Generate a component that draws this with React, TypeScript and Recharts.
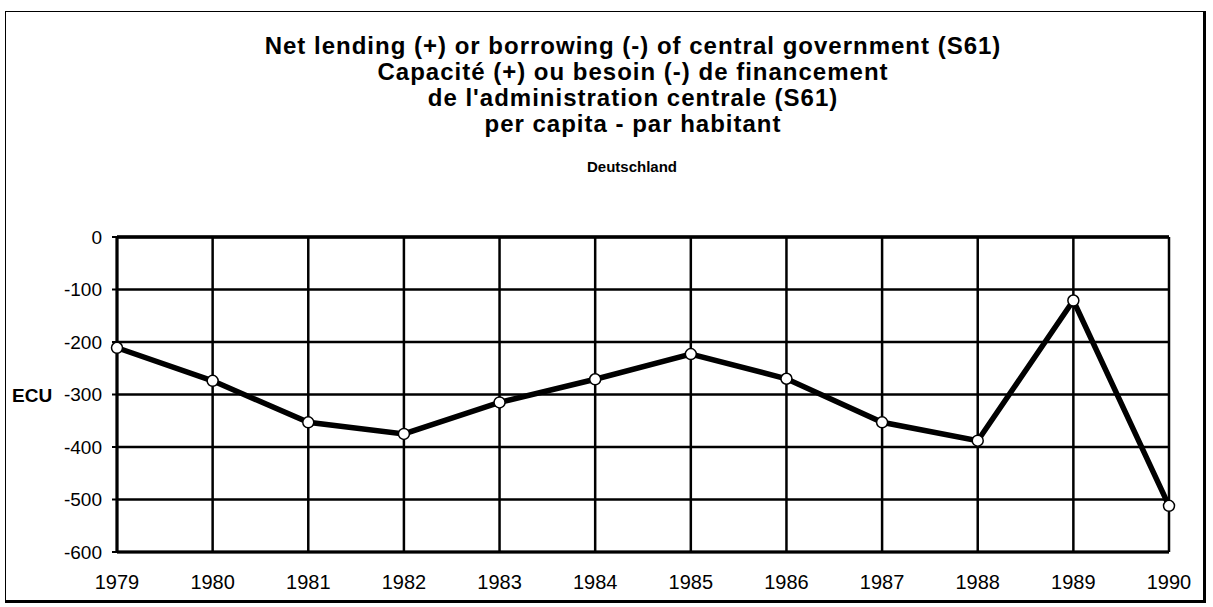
import React from 'react';
import { LineChart, Line, XAxis, YAxis, CartesianGrid, ReferenceLine } from 'recharts';

const years = ['1979', '1980', '1981', '1982', '1983', '1984', '1985', '1986', '1987', '1988', '1989', '1990'];
const ecuPerCapita = [-211, -274, -353, -375, -315, -271, -223, -270, -353, -388, -121, -512];
const yTicks = [0, -100, -200, -300, -400, -500, -600];

const titleLines = [
    'Net lending (+) or borrowing (-) of central government (S61)',
    'Capacité (+) ou besoin (-) de financement',
    "de l'administration centrale (S61)",
    'per capita - par habitant',
];

const FONT = '"Liberation Sans", Arial, Helvetica, sans-serif';

const data = years.map((y, i) => ({ year: y, value: ecuPerCapita[i] }));

export default function App() {
    return (
        <div style={{ position: 'absolute', left: 0, top: 0, width: 1213, height: 607, background: '#fff', fontFamily: FONT }}>
            {/* frame around the whole figure, heavier on the right and bottom */}
            <div style={{
                position: 'absolute', left: 5, top: 11, width: 1197, height: 588,
                borderLeft: '1px solid #000', borderTop: '1px solid #000',
                borderRight: '3px solid #000', borderBottom: '3px solid #000',
            }} />
            <div style={{ position: 'absolute', left: 0, top: 33, width: 1266, textAlign: 'center', fontWeight: 'bold', fontSize: 24, lineHeight: '26px', letterSpacing: 1, color: '#000' }}>
                {titleLines.map(t => <div key={t}>{t}</div>)}
            </div>
            <div style={{ position: 'absolute', left: 0, top: 158, width: 1264, textAlign: 'center', fontWeight: 'bold', fontSize: 15, color: '#000' }}>
                Deutschland
            </div>
            <div style={{ position: 'absolute', left: 12, top: 385, fontWeight: 'bold', fontSize: 19, color: '#000' }}>ECU</div>

            <div style={{ position: 'absolute', left: 0, top: 0 }}>
                <LineChart width={1213} height={607} data={data} margin={{ top: 237, right: 44, bottom: 25, left: 57 }}>
                    <CartesianGrid stroke="#000" strokeWidth={2.5} />
                    <XAxis
                        dataKey="year"
                        height={30}
                        stroke="#000"
                        axisLine={{ stroke: '#000', strokeWidth: 3 }}
                        tickLine={false}
                        tickSize={0}
                        tickMargin={23}
                        tick={{ fill: '#000', fontSize: 20, fontFamily: FONT }}
                        interval={0}
                    />
                    <YAxis
                        domain={[-600, 0]}
                        ticks={yTicks}
                        width={60}
                        stroke="#000"
                        axisLine={{ stroke: '#000', strokeWidth: 3 }}
                        tickLine={{ stroke: '#000', strokeWidth: 2 }}
                        tickSize={5}
                        tickMargin={10}
                        tick={{ fill: '#000', fontSize: 19, fontFamily: FONT }}
                        interval={0}
                    />
                    <ReferenceLine y={0} stroke="#000" strokeWidth={3.5} />
                    <Line
                        type="linear"
                        dataKey="value"
                        stroke="#000"
                        strokeWidth={5.5}
                        dot={{ r: 5.5, fill: '#fff', stroke: '#000', strokeWidth: 1.5 }}
                        isAnimationActive={false}
                    />
                </LineChart>
            </div>
        </div>
    );
}
